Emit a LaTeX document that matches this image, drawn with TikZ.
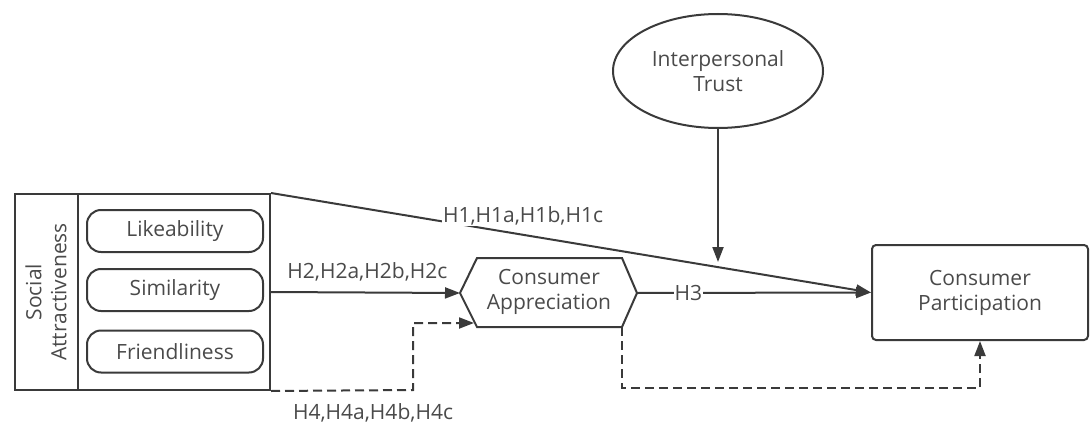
\documentclass[tikz,border=0pt]{standalone}
\usepackage{fontspec}
\setmainfont{Open Sans}
\usetikzlibrary{arrows.meta,shapes.geometric}
\definecolor{linegray}{HTML}{3A3A3A}
\definecolor{textgray}{HTML}{4A4A4A}
\tikzset{
  every node/.style={font=\fontsize{21}{25}\selectfont, text=textgray},
  pill/.style={draw=linegray, line width=2pt, rounded corners=14pt, minimum width=176pt, minimum height=42pt},
  arr/.style={draw=linegray, line width=2pt, -{Triangle[length=15pt,width=11pt]}},
  dashline/.style={draw=linegray, line width=2pt, dash pattern=on 9pt off 5pt},
  lbl/.style={fill=white, inner sep=1pt}
}
\begin{document}
\begin{tikzpicture}[x=1pt,y=-1pt]
\useasboundingbox (0,0) rectangle (1091,425);

\node[draw=linegray, line width=2pt, minimum width=255pt, minimum height=196pt] (sa) at (142.5,292) {};
\node[rotate=90, align=center] (salbl) at (46,292) {Social\\Attractiveness};
\node[pill] (like) at (175,231) {Likeability};
\node[pill] (sim) at (175,290) {Similarity};
\node[pill] (friend) at (175,351.5) {Friendliness};
\node[draw=linegray, line width=2pt, rounded corners=4pt, minimum width=216pt, minimum height=95pt, align=center] (cp) at (980,292.5) {Consumer\\Participation};
\node[ellipse, draw=linegray, line width=2pt, minimum width=210pt, minimum height=114pt, align=center] (it) at (718,71) {Interpersonal\\Trust};

% hexagon
\coordinate (ca-w) at (460,293);
\coordinate (ca-nw) at (477,258);
\coordinate (ca-ne) at (622,258);
\coordinate (ca-e) at (637,293);
\coordinate (ca-se) at (622,327);
\coordinate (ca-sw) at (477,327);
\draw[linegray, line width=2pt] (ca-w)--(ca-nw)--(ca-ne)--(ca-e)--(ca-se)--(ca-sw)--cycle;
\node[align=center] (ca) at (549,292) {Consumer\\Appreciation};

% pomozne tocke
\coordinate (div-top) at (78,194);
\coordinate (div-bot) at (78,390);
\coordinate (ca-h4) at (474,323);
\coordinate (h4-turn) at (413,390);
\coordinate (it-tip) at (718,262);
\coordinate (dash-low) at (622,388);

\draw[linegray, line width=2pt] (div-top)--(div-bot);

\draw[arr] (sa.north east) -- node[lbl, pos=0.42, yshift=19pt] {H1,H1a,H1b,H1c} (cp.west);
\draw[arr] (sa.east) -- node[pos=0.51, yshift=21pt] {H2,H2a,H2b,H2c} (ca-w);
\draw[arr] (ca-e) -- node[lbl, pos=0.22] {H3} (cp.west);
\draw[arr] (it.south) -- (it-tip);
\draw[dashline, -{Triangle[length=15pt,width=11pt]}] (sa.south east) -- (h4-turn) |- (ca-h4);
\node (h4lbl) at (373,413) {H4,H4a,H4b,H4c};
\draw[dashline, -{Triangle[length=15pt,width=11pt]}] (ca-se) -- (dash-low) -| (cp.south);
\end{tikzpicture}
\end{document}
